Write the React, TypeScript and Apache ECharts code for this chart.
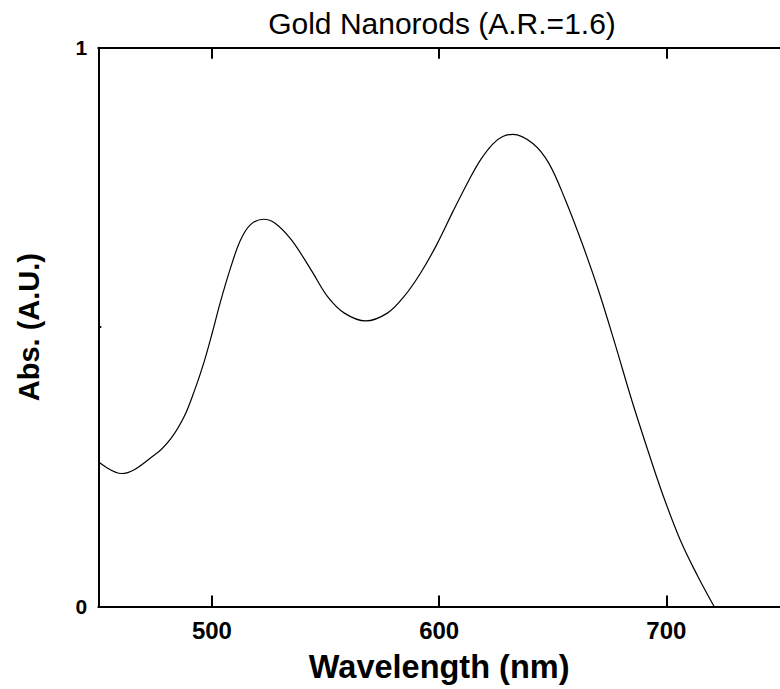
import React, { useEffect, useRef } from "react";
import * as echarts from "echarts";

const wavelengths = [
  450, 460.2, 474.7, 482.0, 487.8, 492.2, 496.5, 500.1, 503.8, 508.2, 512.5, 516.9,
  522.7, 527.8, 535.0, 543.7, 551.0, 558.3, 567.7, 577.2, 584.4, 591.7, 599.0, 606.2,
  613.5, 618.5, 623.7, 628.0, 632.4, 641.1, 648.3, 655.6, 662.9, 670.1, 677.4, 684.7,
  691.0, 698.0, 706.0, 713.7, 721.0,
];
const absorbance = [
  0.259, 0.238, 0.271, 0.301, 0.34, 0.385, 0.437, 0.489, 0.546, 0.606, 0.655, 0.683,
  0.693, 0.686, 0.656, 0.602, 0.554, 0.525, 0.511, 0.525, 0.554, 0.596, 0.648, 0.708,
  0.766, 0.801, 0.828, 0.841, 0.845, 0.829, 0.793, 0.727, 0.65, 0.566, 0.47, 0.37,
  0.29, 0.205, 0.12, 0.055, 0.0,
];
const xTicks = [500, 600, 700];
const yTicks = [0, 0.5, 1];
const yTickLabels = [0, 1];

const titleText = "Gold Nanorods (A.R.=1.6)";
const xName = "Wavelength (nm)";
const yName = "Abs. (A.U.)";

export default function App() {
  const ref = useRef<HTMLDivElement>(null);
  useEffect(() => {
    if (!ref.current) return;
    const chart = echarts.init(ref.current, null, { renderer: "svg" });
    const font = "Liberation Sans, Arial, sans-serif";
    const data = wavelengths.map((w, i) => [w, absorbance[i]]);
    chart.setOption({
      animation: false,
      backgroundColor: "#ffffff",
      title: {
        text: titleText,
        left: 437,
        top: 3,
        textAlign: "center",
        textStyle: { fontFamily: font, fontWeight: "normal", fontSize: 30, color: "#000" },
      },
      grid: { left: 98.3, top: 47.7, right: -6.5, bottom: 82.5, containLabel: false },
      xAxis: [
        {
          type: "value",
          min: 450,
          max: 750,
          interval: 50,
          position: "bottom",
          name: xName,
          nameLocation: "middle",
          nameGap: 44,
          nameTextStyle: { fontFamily: font, fontWeight: "bold", fontSize: 32.5, color: "#000" },
          axisLine: { show: true, lineStyle: { color: "#000", width: 2 } },
          axisTick: {
            show: true,
            inside: true,
            length: 11,
            lineStyle: { color: "#000", width: 2 },
            customValues: xTicks,
          },
          axisLabel: {
            show: true,
            margin: 12,
            fontFamily: font,
            fontWeight: "bold",
            fontSize: 24,
            color: "#000",
            customValues: xTicks,
          },
          splitLine: { show: false },
        },
        {
          type: "value",
          min: 450,
          max: 750,
          interval: 50,
          position: "top",
          axisLine: { show: true, lineStyle: { color: "#000", width: 2 } },
          axisTick: {
            show: true,
            inside: true,
            length: 11,
            lineStyle: { color: "#000", width: 2 },
            customValues: xTicks,
          },
          axisLabel: { show: false },
          splitLine: { show: false },
        },
      ],
      yAxis: [
        {
          type: "value",
          min: 0,
          max: 1,
          interval: 0.5,
          position: "left",
          name: yName,
          nameLocation: "middle",
          nameGap: 55,
          nameRotate: 90,
          nameTextStyle: { fontFamily: font, fontWeight: "bold", fontSize: 29, color: "#000" },
          axisLine: { show: true, lineStyle: { color: "#000", width: 2 } },
          axisTick: {
            show: true,
            inside: true,
            length: 3,
            lineStyle: { color: "#000", width: 2 },
            customValues: yTicks,
          },
          axisLabel: {
            show: true,
            margin: 11,
            fontFamily: font,
            fontWeight: "bold",
            fontSize: 21,
            color: "#000",
            customValues: yTickLabels,
          },
          splitLine: { show: false },
        },
      ],
      series: [
        {
          type: "line",
          xAxisIndex: 0,
          yAxisIndex: 0,
          data,
          smooth: 0.35,
          showSymbol: false,
          symbol: "none",
          lineStyle: { color: "#000", width: 1.2 },
          clip: true,
        },
      ],
    });
    return () => chart.dispose();
  }, []);
  return (
    <div
      ref={ref}
      style={{ position: "fixed", left: 0, top: 0, width: 780, height: 689, background: "#fff" }}
    />
  );
}
